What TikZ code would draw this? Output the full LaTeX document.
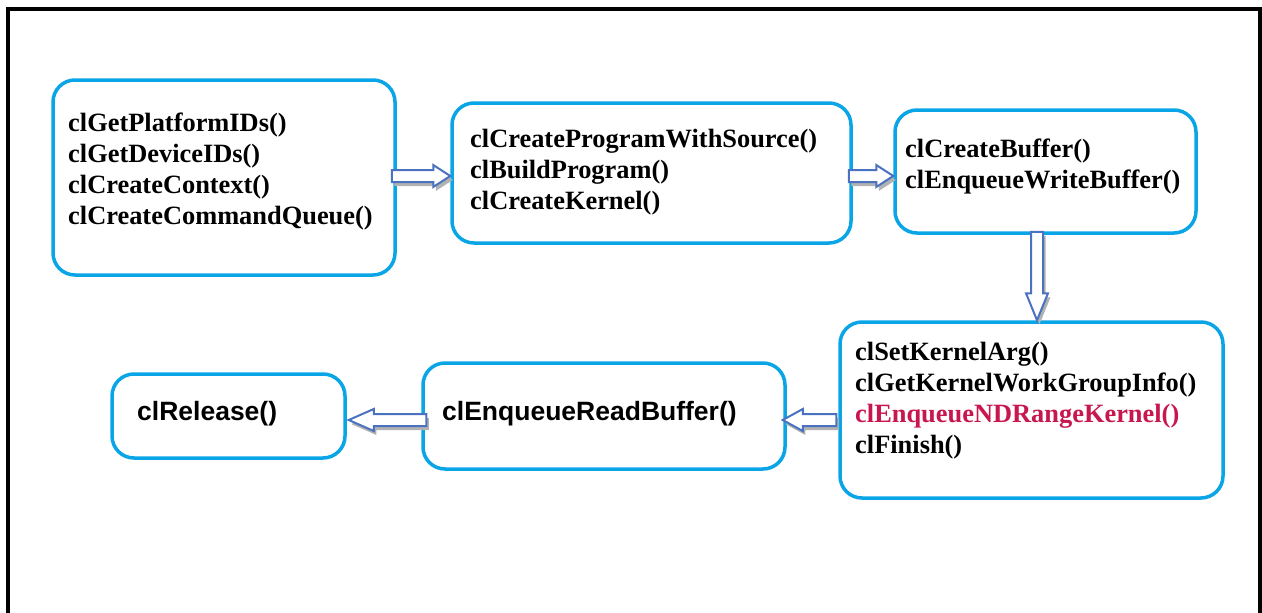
\documentclass[tikz,border=0pt]{standalone}
\usepackage{fontspec}
\setmainfont{Liberation Serif}
\newfontfamily\arialfont{Liberation Sans}
\usetikzlibrary{calc}
\definecolor{boxblue}{HTML}{0AA5E6}
\definecolor{arrowblue}{HTML}{4A72C0}
\definecolor{kred}{HTML}{C8174F}
\tikzset{
  box/.style={draw=boxblue, line width=3.5pt, rounded corners=22pt, fill=white, inner sep=0pt},
  codetext/.style={anchor=north west, align=left, inner sep=0pt, font=\fontsize{26.4}{31}\selectfont\bfseries},
  sanstext/.style={anchor=north west, align=left, inner sep=0pt, font=\fontsize{26.5}{31}\selectfont\arialfont\bfseries},
  arrowbody/.style={draw=arrowblue, line width=2pt, fill=white, line join=miter},
  arrowshadow/.style={fill=gray!60},
}
% #1 head length, #2 start, #3 end
\newcommand\blockarrow[3]{%
  \coordinate (ba-s) at (#2);
  \coordinate (ba-e) at (#3);
  \coordinate (ba-h) at ($(ba-e)!#1!(ba-s)$);
  \def\baPath{($(ba-s)!6pt!90:(ba-e)$) -- ($(ba-h)!6pt!-90:(ba-s)$) -- ($(ba-h)!11pt!-90:(ba-s)$) -- (ba-e) -- ($(ba-h)!11pt!90:(ba-s)$) -- ($(ba-h)!6pt!90:(ba-s)$) -- ($(ba-s)!6pt!-90:(ba-e)$) -- cycle}%
  \fill[arrowshadow, transform canvas={shift={(2.5pt,-4pt)}}] \baPath;
  \filldraw[arrowbody] \baPath;
}
\begin{document}
\begin{tikzpicture}[x=1pt, y=-1pt]
\useasboundingbox (0,0) rectangle (1262,613);
\fill[white] (0,0) rectangle (1262,613);
% outer frame
\draw[line width=4pt] (8,620) -- (8,9) -- (1260,9) -- (1260,620);

% boxes
\node[box, minimum width=342pt, minimum height=195pt] (b1) at (224,177.5) {};
\node[box, minimum width=399pt, minimum height=140pt] (b2) at (651.5,173) {};
\node[box, minimum width=301pt, minimum height=123pt] (b3) at (1045.5,171.5) {};
\node[box, minimum width=383pt, minimum height=176pt] (b4) at (1031.5,410) {};
\node[box, minimum width=362pt, minimum height=106pt] (b5) at (604,416) {};
\node[box, minimum width=233pt, minimum height=84pt] (b6) at (228.5,416) {};

% texts
\node[codetext] (t1) at (68,112.5) {clGetPlatformIDs()\\clGetDeviceIDs()\\clCreateContext()\\clCreateCommandQueue()};
\node[codetext] (t2) at (470,128.6) {clCreateProgramWithSource()\\clBuildProgram()\\clCreateKernel()};
\node[codetext] (t3) at (905,138.6) {clCreateBuffer()\\clEnqueueWriteBuffer()};
\node[codetext] (t4) at (855,341.6) {clSetKernelArg()\\clGetKernelWorkGroupInfo()\\\textcolor{kred}{clEnqueueNDRangeKernel()}\\clFinish()};
\node[sanstext] (t5) at (442,400.7) {clEnqueueReadBuffer()};
\node[sanstext] (t6) at (137,400.7) {clRelease()};

% connectors
\blockarrow{17pt}{$(b1.east)+(-5,-1.5)$}{$(b1.east -| b2.west)+(0,-1.5)$}
\blockarrow{17pt}{$(b2.east)+(-4,3)$}{$(b3.west |- b2.east)+(0,3)$}
\coordinate (a3s) at ($(b3.south)+(-8.5,-3)$);
\blockarrow{27pt}{a3s}{a3s |- b4.north}
\blockarrow{20pt}{$(b4.west)+(-2,10)$}{$(b5.east)+(-4,4)$}
\blockarrow{25pt}{$(b5.west)+(5,4)$}{$(b6.east)+(2,4)$}
\end{tikzpicture}
\end{document}
